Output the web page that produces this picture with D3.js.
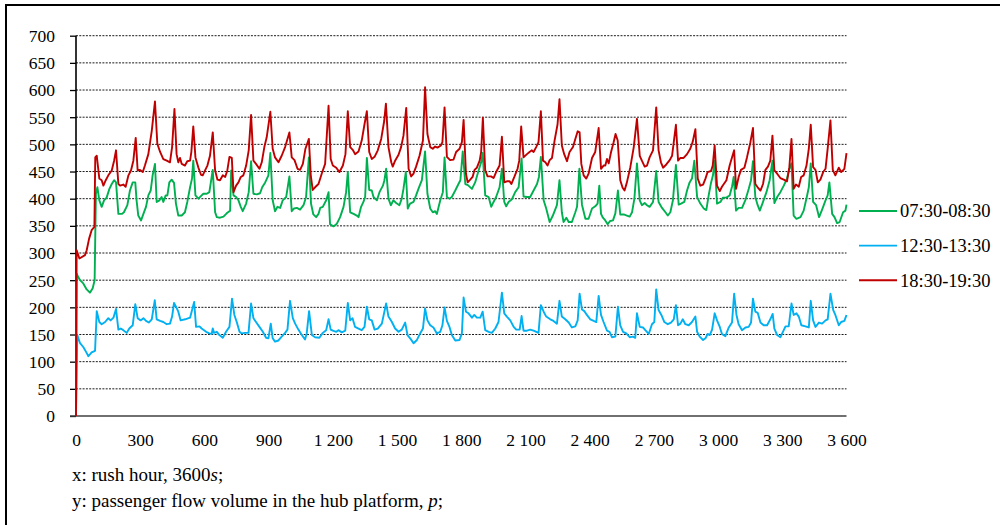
<!DOCTYPE html>
<html>
<head>
<meta charset="utf-8">
<script src="https://cdn.jsdelivr.net/npm/d3@7"></script>
<style>
  html, body { margin: 0; padding: 0; background: #fff; }
  svg { display: block; font-family: "Liberation Serif", "Times New Roman", serif; }
</style>
</head>
<body>
<svg id="chart" width="1000" height="525"></svg>
<script>
// ---------- data (time in s, passenger flow p) ----------
const seriesNames = ["07:30-08:30", "12:30-13:30", "18:30-19:30"];
const seriesColors = ["#00B050", "#00B0F0", "#C00000"];
const yTicks = [0,50,100,150,200,250,300,350,400,450,500,550,600,650,700];
const xTicks = [0,300,600,900,1200,1500,1800,2100,2400,2700,3000,3300,3600];

const greenT = [0,3,6,19,34,50,65,78,87,93,100,109,120,131,143,156,167,178,187,198,214,224,240,252,265,277,283,291,304,315,327,338,349,358,369,377,390,400,408,419,427,436,447,458,467,478,494,509,520,533,542,548,558,572,587,
595,611,623,639,650,658,673,689,704,720,725,736,748,759,770,779,795,807,818,829,845,860,870,884,899,908,919,930,941,954,966,982,997,1008,1019,1032,1047,1063,1075,1088,1098,1109,1122,1133,1141,1153,1169,1180,1187,
1203,1219,1234,1250,1262,1270,1281,1297,1312,1320,1332,1343,1351,1359,1370,1382,1390,1406,1418,1434,1441,1449,1460,1471,1483,1496,1511,1522,1530,1541,1550,1561,1577,1589,1600,1616,1631,1642,1655,1667,1678,1686,1702,1714,1722,1733,1745,1756,1772,1787,1796,1807,
1819,1831,1850,1865,1881,1893,1900,1912,1928,1940,1951,1963,1979,1990,2001,2010,2021,2037,2052,2068,2082,2091,2107,2122,2138,2154,2163,2172,2185,2197,2213,2228,2247,2259,2270,2278,2291,2302,2317,2333,2341,2352,2364,2380,2395,2411,
2426,2437,2445,2453,2462,2473,2484,2496,2509,2520,2532,2543,2559,2574,2587,2598,2609,2621,2634,2644,2657,2668,2680,2696,2711,2722,2738,2754,2765,2777,2789,2803,2816,2827,2842,2855,2867,2878,2889,2902,2917,2933,2945,2956,2967,2976,2984,2995,3011,3023,
3039,3054,3065,3073,3084,3096,3112,3128,3143,3154,3163,3174,3185,3195,3210,3226,3241,3254,3263,3276,3291,3307,3322,3333,3343,3353,3366,3385,3400,3416,3424,3433,3444,3458,3472,3486,3502,3512,3520,3533,3544,3556,3568,3584,3595,3600];
const greenV = [0,262,259,250,244,233,227,235,250,409,421,397,385,397,402,418,427,434,430,372,372,375,388,415,430,430,397,369,360,372,385,406,415,443,464,394,397,403,394,406,406,430,435,429,391,369,369,375,394,421,437,470,406,400,406,
409,409,412,453,375,366,365,367,373,378,452,406,403,397,385,377,391,412,469,409,408,410,421,430,443,484,397,377,385,383,397,403,441,377,382,383,380,388,403,476,391,371,366,372,383,385,397,412,353,
349,354,366,385,412,449,375,372,369,366,385,394,403,475,416,415,403,397,412,424,434,455,400,388,397,392,388,400,418,449,382,391,394,406,418,434,487,409,382,375,377,372,397,412,476,403,400,403,415,427,434,487,
427,425,418,430,452,467,484,406,403,385,394,403,421,455,394,386,394,399,412,421,474,404,403,403,415,427,440,477,397,382,357,369,388,434,375,357,365,357,357,375,385,455,389,363,363,382,
386,391,424,372,365,360,353,359,360,373,415,371,371,369,367,375,400,465,397,388,392,388,385,394,451,394,383,375,369,375,397,462,389,391,394,415,430,437,470,403,391,382,379,406,429,443,470,391,394,402,
402,406,422,440,378,383,383,398,418,434,469,403,388,378,394,412,434,470,392,403,412,424,437,455,465,369,363,366,378,406,421,465,394,388,366,380,397,406,430,372,366,355,357,375,378,389];

const blueT = [0,6,19,34,47,58,73,89,97,109,120,136,151,162,175,187,198,209,221,237,249,265,277,288,302,315,327,340,354,368,377,393,408,424,439,449,458,471,478,489,510,533,552,561,577,587,
608,623,634,639,645,658,670,686,701,717,729,740,751,764,774,790,806,818,829,841,857,873,888,899,910,919,930,946,961,977,988,1000,1013,1024,1039,1055,1070,1078,1089,1102,1117,1137,1153,1169,1180,1190,
1200,1216,1226,1242,1258,1270,1281,1292,1304,1320,1335,1348,1359,1370,1382,1395,1410,1429,1449,1460,1476,1491,1507,1522,1538,1549,1565,1577,1593,1608,1621,1631,1642,1655,1670,1686,1702,1712,1722,1733,1745,1756,1772,1792,1803,
1811,1822,1834,1850,1861,1873,1889,1900,1912,1928,1943,1959,1974,1990,2001,2013,2029,2045,2057,2073,2082,2091,2107,2122,2138,2161,2172,2185,2197,2216,2231,2247,2259,2270,2286,2302,2317,2333,2344,2353,2364,2375,2387,2403,
2419,2431,2442,2453,2465,2481,2493,2504,2520,2532,2543,2556,2571,2587,2602,2613,2621,2634,2649,2660,2676,2691,2702,2711,2722,2735,2749,2765,2780,2793,2803,2813,2824,2835,2847,2863,2878,2894,2902,2914,2930,2941,2951,2961,2972,2984,2995,3008,3018,
3034,3050,3065,3075,3086,3096,3112,3128,3143,3154,3163,3174,3185,3198,3213,3229,3244,3255,3263,3276,3291,3303,3315,3330,3343,3353,3366,3377,3389,3408,3424,3433,3444,3455,3471,3486,3502,3512,3525,3538,3548,3564,3575,3590,3600];
const blueV = [0,149,134,127,118,110,117,120,193,173,169,173,180,176,181,197,159,161,158,153,161,167,206,180,176,180,175,172,178,213,178,175,173,169,170,183,208,198,192,176,178,181,210,164,165,161,
155,152,151,161,153,155,149,144,155,164,216,186,173,155,152,153,153,207,180,173,164,155,144,143,170,143,137,139,146,153,159,212,180,170,159,149,141,152,193,149,145,144,153,158,178,159,
157,155,158,154,157,208,176,180,164,161,158,164,201,178,176,159,161,170,207,183,173,161,155,159,172,149,141,134,140,152,161,198,176,167,163,152,155,167,200,175,164,149,139,140,152,
218,192,189,181,186,181,181,192,158,155,153,161,173,227,189,183,176,164,159,159,184,157,157,159,157,153,204,192,183,178,175,170,212,183,178,172,163,165,176,225,196,193,186,178,
175,173,221,186,173,157,155,145,146,201,167,155,152,145,146,144,189,164,163,158,151,169,173,233,195,186,173,169,172,178,204,167,170,178,169,167,173,183,155,146,140,143,151,149,159,189,176,164,151,
147,163,172,225,186,169,158,163,164,172,216,192,190,172,167,167,178,188,161,149,145,155,165,165,207,186,189,183,167,165,163,212,176,164,172,170,176,178,225,195,186,167,173,175,186];

const redT = [0,3,16,42,50,61,73,86,90,97,109,120,128,139,151,167,178,187,198,206,221,232,245,257,268,279,288,299,312,322,338,354,369,380,393,408,424,439,449,460,470,478,486,494,509,520,533,539,548,558,572,584,
592,603,614,626,639,650,661,673,686,697,707,717,728,736,748,759,770,782,795,807,818,829,841,857,868,880,891,908,919,930,946,961,977,997,1008,1021,1035,1047,1060,1072,1088,1097,1106,1117,1133,1148,1164,1180,1190,
1200,1216,1231,1247,1259,1270,1281,1293,1304,1320,1335,1348,1359,1370,1382,1395,1410,1426,1440,1448,1460,1473,1480,1491,1507,1519,1530,1543,1554,1566,1577,1589,1605,1621,1631,1642,1655,1667,1678,1689,1705,1712,1722,1733,1748,1764,1776,1792,1803,
1811,1822,1830,1842,1853,1862,1873,1886,1893,1901,1912,1923,1939,1951,1963,1979,1990,2001,2013,2026,2034,2048,2063,2071,2080,2091,2107,2119,2130,2138,2150,2161,2172,2182,2193,2203,2213,2224,2236,2250,2259,2270,2281,2294,2306,2322,2333,2344,2353,2361,2372,2384,2395,2411,
2426,2442,2453,2465,2473,2481,2489,2500,2512,2521,2531,2543,2554,2563,2574,2590,2606,2621,2634,2644,2657,2668,2680,2696,2711,2722,2733,2743,2758,2774,2785,2803,2813,2824,2839,2855,2870,2881,2894,2905,2917,2930,2941,2951,2967,2975,2984,2995,3008,3018,
3039,3054,3065,3075,3084,3096,3107,3123,3135,3151,3163,3174,3185,3198,3210,3221,3233,3244,3254,3263,3276,3291,3307,3322,3333,3343,3353,3364,3377,3388,3400,3413,3424,3433,3444,3455,3466,3478,3491,3502,3512,3525,3536,3548,3564,3575,3590,3600];
const redV = [0,305,290,296,305,326,342,348,476,479,437,434,424,434,443,452,470,489,427,424,426,422,443,452,470,512,452,453,449,461,482,525,579,501,486,473,470,467,495,565,482,467,475,464,461,469,470,486,533,476,457,444,
443,452,461,479,522,452,435,434,443,440,452,477,475,412,424,430,440,443,461,489,554,470,464,455,467,495,513,560,492,476,467,479,495,522,476,471,455,453,464,492,510,443,416,421,427,446,464,571,473,
461,457,449,461,482,561,495,490,482,487,507,537,561,486,473,477,489,510,543,575,495,467,459,470,481,495,516,567,455,441,446,459,479,507,605,519,495,492,496,494,498,504,568,477,471,472,486,492,504,
545,446,430,435,440,453,457,470,486,549,452,441,441,438,449,461,514,430,432,432,427,440,455,470,533,476,482,486,489,486,495,504,561,470,467,461,471,475,507,537,583,498,482,469,486,495,510,524,522,464,443,437,446,475,
486,530,455,461,461,473,465,486,504,519,507,434,420,415,430,458,495,547,479,470,459,461,476,489,568,489,467,457,463,471,479,536,470,475,475,482,492,504,528,437,424,426,437,449,451,461,498,424,414,422,
434,461,476,489,418,440,453,457,476,504,530,427,421,415,427,453,459,470,516,452,446,438,435,432,458,510,418,426,422,440,443,461,492,536,458,453,430,435,449,455,492,544,453,443,457,449,455,484];

// ---------- layout ----------
const svg = d3.select("#chart");
const x = d3.scaleLinear().domain([0, 3600]).range([76, 846.5]);
const y = d3.scaleLinear().domain([0, 700]).range([416, 35.7]);

// outer frame
svg.append("rect").attr("x", 6).attr("y", 5).attr("width", 1010).attr("height", 530)
  .attr("fill", "none").attr("stroke", "#000").attr("stroke-width", 2);

// gridlines (dotted)
svg.append("g").selectAll("line").data(yTicks.filter(d => d > 0)).join("line")
  .attr("x1", x(0)).attr("x2", x(3600))
  .attr("y1", d => y(d)).attr("y2", d => y(d))
  .attr("stroke", "#1a1a1a").attr("stroke-width", 1).attr("stroke-dasharray", "2,1.3");

// y axis
const yAxis = svg.append("g").attr("transform", `translate(${x(0)},0)`)
  .call(d3.axisLeft(y).tickValues(yTicks).tickSize(6).tickPadding(15).tickFormat(d3.format("d")));
yAxis.select(".domain").attr("stroke", "#000").attr("stroke-width", 1.6).attr("d", `M0,${y(0)}V${y(700)}`);
yAxis.selectAll(".tick line").attr("stroke", "#000").attr("stroke-width", 1.3);
yAxis.selectAll(".tick text").attr("font-family", "Liberation Serif, serif").attr("font-size", 17.5)
  .attr("fill", "#000").attr("dy", "0.34em");

// x axis
const fmtX = d => d >= 1000 ? String(d).replace(/(\d)(\d{3})$/, "$1 $2") : String(d);
const xAxis = svg.append("g").attr("transform", `translate(0,${y(0)})`)
  .call(d3.axisBottom(x).tickValues(xTicks).tickSize(0).tickPadding(18).tickFormat(fmtX));
xAxis.select(".domain").attr("stroke", "#404040").attr("stroke-width", 1.6).attr("d", `M${x(0)-6},0H${x(3600)}`);
xAxis.selectAll(".tick text").attr("font-family", "Liberation Serif, serif").attr("font-size", 17.5)
  .attr("fill", "#000").attr("dy", "0.71em");

// series
const series = [
  { t: greenT, v: greenV },
  { t: blueT, v: blueV },
  { t: redT, v: redV }
];
const line = d3.line().x(d => x(d[0])).y(d => y(d[1]));
series.forEach((s, i) => {
  const pts = s.t.map((t, k) => [t, s.v[k]]);
  svg.append("path").datum(pts).attr("d", line)
    .attr("fill", "none").attr("stroke", seriesColors[i])
    .attr("stroke-width", 1.9).attr("stroke-linejoin", "round");
});

// legend
const leg = svg.append("g");
seriesNames.forEach((name, i) => {
  const ly = 211 + i * 34.6;
  leg.append("line").attr("x1", 859).attr("x2", 897).attr("y1", ly).attr("y2", ly)
    .attr("stroke", seriesColors[i]).attr("stroke-width", 1.9);
  leg.append("text").attr("x", 900).attr("y", ly).attr("dy", "0.35em")
    .attr("font-size", 18.5).attr("fill", "#000").text(name);
});

// axis descriptions
const t1 = svg.append("text").attr("x", 72).attr("y", 481).attr("font-size", 19).attr("fill", "#000");
t1.append("tspan").text("x: rush hour, 3600");
t1.append("tspan").attr("font-style", "italic").text("s");
t1.append("tspan").text(";");
const t2 = svg.append("text").attr("x", 72).attr("y", 507).attr("font-size", 19).attr("fill", "#000");
t2.append("tspan").text("y: passenger flow volume in the hub platform, ");
t2.append("tspan").attr("font-style", "italic").text("p");
t2.append("tspan").text(";");
</script>
</body>
</html>
